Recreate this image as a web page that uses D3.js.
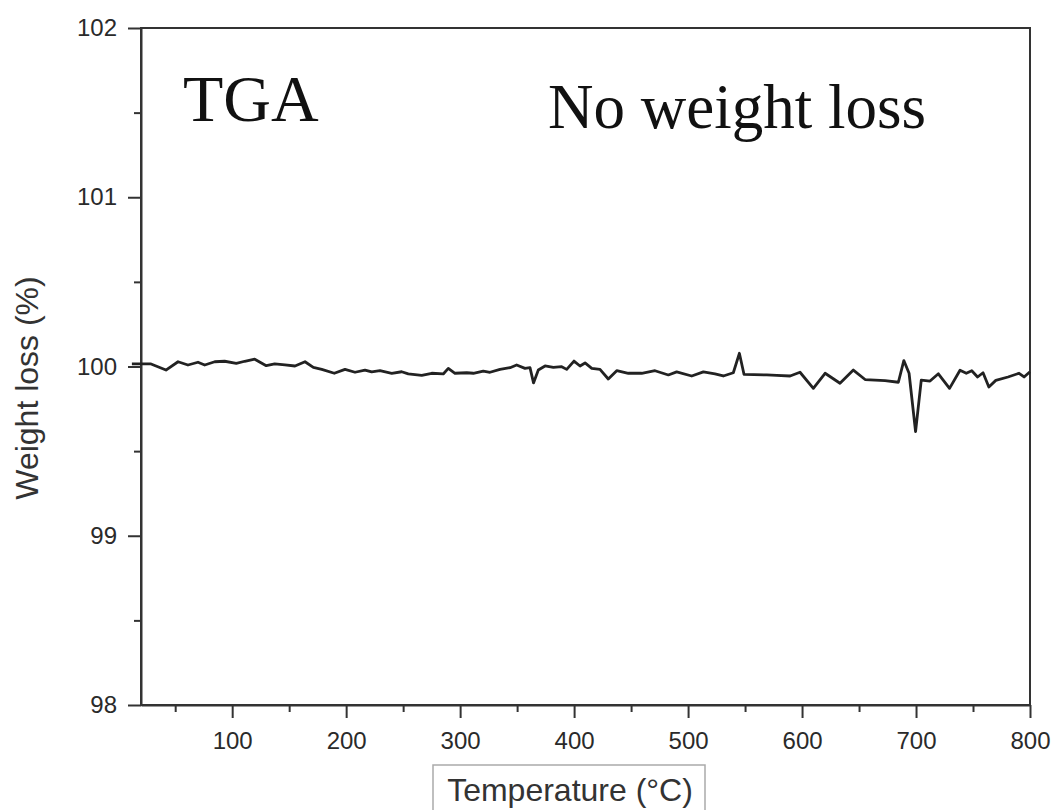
<!DOCTYPE html>
<html>
<head>
<meta charset="utf-8">
<script src="https://cdn.jsdelivr.net/npm/d3@7"></script>
<style>
  body { margin: 0; background: #fff; }
  svg { display: block; }
</style>
</head>
<body>
<svg id="chart" width="1057" height="810"></svg>
<script>
// TGA curve (temperature in C, weight in %)
var temps = [12, 20, 28.8, 41.9, 52.5, 61.2, 70, 75.9, 84.7, 93.4, 103.6, 111, 119.8, 129.9, 137.3,
  146.3, 155.1, 163.9, 171.2, 178.6, 189.6, 199, 207.8, 216.5, 222.4, 229.7, 240, 248.7, 254.5,
  266.3, 275.1, 285.2, 289.6, 295.5, 305.8, 311.6, 320.3, 326.2, 335, 343.8, 349.6, 356.9, 361.3,
  364.4, 368.6, 374.5, 381.8, 389.1, 393.5, 399.9, 405.2, 409.6, 415.5, 422.7, 430, 437.4, 447.6,
  459.3, 471, 482.7, 490, 503.2, 513.4, 523.6, 530.9, 539.7, 545, 549.1, 569, 577.8, 589.5, 598.2,
  609.9, 620.2, 633.3, 645, 655.3, 672.8, 684.5, 689.3, 693.9, 699.6, 704.6, 712.3, 719.6, 729.4,
  738.6, 744.1, 748.9, 754, 758.8, 763.9, 770, 780.7, 790.4, 794.8, 800]
var weights = [100.015, 100.015, 100.015, 99.979, 100.028, 100.009, 100.025, 100.009, 100.028, 100.031, 100.019, 100.031, 100.043, 100.005, 100.015,
  100.009, 100.003, 100.028, 99.995, 99.983, 99.960, 99.983, 99.966, 99.979, 99.968, 99.975, 99.960, 99.969, 99.956,
  99.948, 99.960, 99.956, 99.989, 99.960, 99.963, 99.960, 99.973, 99.966, 99.983, 99.993, 100.009, 99.989, 99.993,
  99.903, 99.979, 100.003, 99.995, 99.999, 99.983, 100.032, 100.003, 100.021, 99.989, 99.983, 99.926, 99.975, 99.960,
  99.960, 99.975, 99.950, 99.968, 99.944, 99.968, 99.956, 99.944, 99.963, 100.078, 99.953, 99.950, 99.947, 99.944, 99.966,
  99.871, 99.960, 99.901, 99.979, 99.923, 99.916, 99.907, 100.035, 99.960, 99.615, 99.920, 99.914, 99.957, 99.871,
  99.978, 99.960, 99.975, 99.938, 99.963, 99.879, 99.918, 99.938, 99.960, 99.938, 99.969]

var xTicks = [100, 200, 300, 400, 500, 600, 700, 800]
var xMinor = [50, 150, 250, 350, 450, 550, 650, 750]
var yTicks = [98, 99, 100, 101, 102]
var yMinor = [98.5, 99.5, 100.5, 101.5]

var svg = d3.select("#chart")

// plot box
var plotL = 141, plotR = 1030, plotT = 28, plotB = 705

var x = d3.scaleLinear().domain([20, 800]).range([plotL, plotR])
var y = d3.scaleLinear().domain([98, 102]).range([plotB, plotT])

var pts = temps.map((t, i) => [t, weights[i]])

// frame
svg.append("rect")
  .attr("x", plotL).attr("y", plotT)
  .attr("width", plotR - plotL).attr("height", plotB - plotT)
  .attr("fill", "none")
  .attr("stroke", "#333")
  .attr("stroke-width", 2)

// x axis
svg.append("g")
  .attr("transform", "translate(0," + plotB + ")")
  .call(d3.axisBottom(x).tickValues(xTicks).tickSizeInner(13).tickSizeOuter(0).tickPadding(14).tickFormat(d3.format("d")))
svg.append("g")
  .attr("transform", "translate(0," + plotB + ")")
  .call(d3.axisBottom(x).tickValues(xMinor).tickSize(7).tickFormat(""))
  .call(g => g.select(".domain").remove())

// y axis
svg.append("g")
  .attr("transform", "translate(" + plotL + ",0)")
  .call(d3.axisLeft(y).tickValues(yTicks).tickSizeInner(13).tickSizeOuter(0).tickPadding(11).tickFormat(d3.format("d")))
svg.append("g")
  .attr("transform", "translate(" + plotL + ",0)")
  .call(d3.axisLeft(y).tickValues(yMinor).tickSize(7).tickFormat(""))
  .call(g => g.select(".domain").remove())

svg.selectAll(".domain").attr("stroke", "#333").attr("stroke-width", 2)
svg.selectAll(".tick line").attr("stroke", "#333").attr("stroke-width", 2)
svg.selectAll(".tick text")
  .attr("fill", "#2a2a2a")
  .style("font-family", "'Liberation Sans', Arial, sans-serif")
  .style("font-size", "24px")

// the curve
svg.append("path")
  .datum(pts)
  .attr("fill", "none")
  .attr("stroke", "#222")
  .attr("stroke-width", 2.8)
  .attr("stroke-linejoin", "round")
  .attr("d", d3.line().x(d => x(d[0])).y(d => y(d[1])))

// labels
svg.append("text")
  .attr("transform", "translate(38,388) rotate(-90)")
  .attr("text-anchor", "middle")
  .attr("fill", "#333")
  .style("font-family", "'Liberation Sans', Arial, sans-serif")
  .style("font-size", "32px")
  .text("Weight loss (%)")

svg.append("rect")
  .attr("x", 433).attr("y", 765)
  .attr("width", 272).attr("height", 60)
  .attr("fill", "none")
  .attr("stroke", "#aaa")
  .attr("stroke-width", 1.5)

svg.append("text")
  .attr("x", 570).attr("y", 801)
  .attr("text-anchor", "middle")
  .attr("fill", "#333")
  .style("font-family", "'Liberation Sans', Arial, sans-serif")
  .style("font-size", "32px")
  .text("Temperature (\u00B0C)")

svg.append("text")
  .attr("x", 183).attr("y", 121)
  .attr("fill", "#111")
  .style("font-family", "'Liberation Serif', 'Times New Roman', serif")
  .style("font-size", "66px")
  .text("TGA")

svg.append("text")
  .attr("x", 548).attr("y", 128)
  .attr("fill", "#111")
  .style("font-family", "'Liberation Serif', 'Times New Roman', serif")
  .style("font-size", "63px")
  .text("No weight loss")
</script>
</body>
</html>
